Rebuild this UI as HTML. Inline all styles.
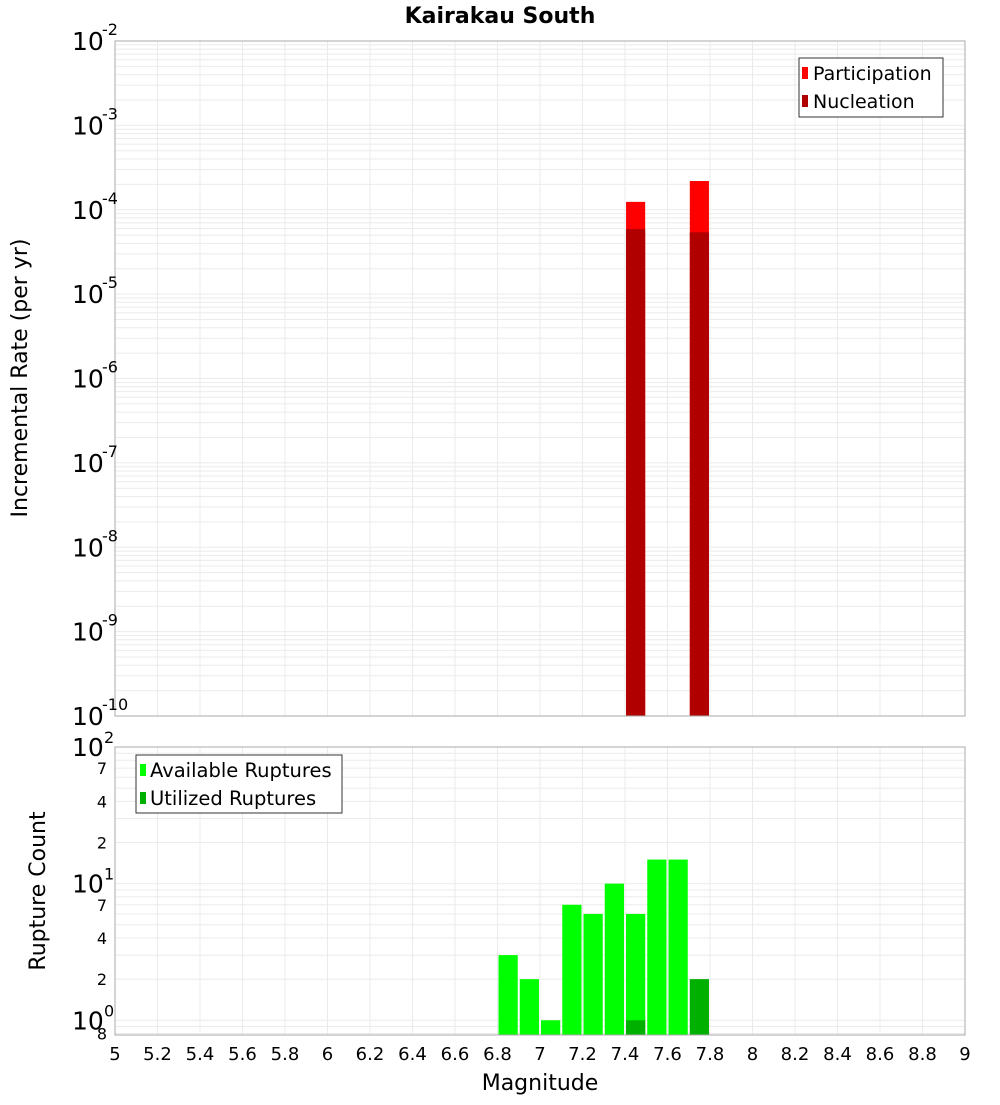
<!DOCTYPE html>
<html><head><meta charset="utf-8"><style>
body{margin:0;background:#fff}
svg{font-family:"DejaVu Sans","Liberation Sans",sans-serif}
</style></head><body>
<svg id="c" width="1000" height="1100" xmlns="http://www.w3.org/2000/svg">
<text x="500" y="23" text-anchor="middle" font-size="22" font-weight="bold">Kairakau South</text>
<g id="topG"></g>
<g id="botG"></g>
<text transform="translate(27,378) rotate(-90)" text-anchor="middle" font-size="22">Incremental Rate (per yr)</text>
<text transform="translate(45,891) rotate(-90)" text-anchor="middle" font-size="22">Rupture Count</text>
<text x="540" y="1090" text-anchor="middle" font-size="22">Magnitude</text>
<g>
<rect x="799" y="58" width="144" height="59" fill="#fff" stroke="#333"/>
<rect x="802" y="67" width="6" height="12" fill="#ff0000"/><text x="813" y="80" font-size="19">Participation</text>
<rect x="802" y="95" width="6" height="12" fill="#b00000"/><text x="813" y="108" font-size="19">Nucleation</text>
</g>
<g>
<rect x="136" y="755" width="206" height="58" fill="#fff" stroke="#333"/>
<rect x="140" y="764" width="6" height="12" fill="#00ff00"/><text x="150" y="777" font-size="19.5">Available Ruptures</text>
<rect x="140" y="792" width="6" height="12" fill="#00b000"/><text x="150" y="805" font-size="19.5">Utilized Ruptures</text>
</g>
</svg>
<script>
const rateMags=[7.45,7.75];
const participation=[1.24e-4,2.19e-4];
const nucleation=[5.9e-5,5.4e-5];
const countMags=[6.85,6.95,7.05,7.15,7.25,7.35,7.45,7.55,7.65,7.75];
const available=[3,2,1,7,6,10,6,15,15,0];
const utilized=[0,0,0,0,0,0,1,0,0,2];
const xTicks=[5,5.2,5.4,5.6,5.8,6,6.2,6.4,6.6,6.8,7,7.2,7.4,7.6,7.8,8,8.2,8.4,8.6,8.8,9];
const rateExps=[-2,-3,-4,-5,-6,-7,-8,-9,-10];
const NS="http://www.w3.org/2000/svg";
const L=115,R=965;
const X=m=>L+(m-5)/4*(R-L);
const T0=41,T1=716, yT=v=>T0+(-2-Math.log10(v))/8*(T1-T0);
const B0=747,B1=1035, bMin=0.78, yB=v=>B0+(2-Math.log10(v))/(2-Math.log10(bMin))*(B1-B0);
function mk(p,tag,at,txt){const e=document.createElementNS(NS,tag);for(const k in at)e.setAttribute(k,at[k]);if(txt!==undefined)e.textContent=txt;p.appendChild(e);return e;}
const topPlot=document.getElementById('topG'),botPlot=document.getElementById('botG');
mk(topPlot,'rect',{x:L,y:T0,width:R-L,height:T1-T0,fill:'#fff'});
for(let e=-10;e<-2;e++)for(let k=1;k<10;k++){const y=yT(k*Math.pow(10,e));mk(topPlot,'line',{x1:L,x2:R,y1:y,y2:y,stroke:'#ebebeb'});}
for(const t of xTicks){mk(topPlot,'line',{x1:X(t),x2:X(t),y1:T0,y2:T1,stroke:'#ebebeb'});}
for(let i=0;i<rateMags.length;i++){
 const x=X(rateMags[i]-0.045),w=X(5.09)-L;
 const p=mk(topPlot,'rect',{x:x,y:yT(participation[i]),width:w,height:T1-yT(participation[i]),fill:'#ff0000'});
 
 
 const n=mk(topPlot,'rect',{x:x,y:yT(nucleation[i]),width:w,height:T1-yT(nucleation[i]),fill:'#b00000'});
 
 
}
mk(topPlot,'rect',{x:L,y:T0,width:R-L,height:T1-T0,fill:'none',stroke:'#aaa'});
for(const e of rateExps){const y=yT(Math.pow(10,e));const g=mk(topPlot,'g',{});
 
 
 mk(g,'text',{x:72,y:y+9,'font-size':25},'10');mk(g,'text',{x:102,y:y-6,'font-size':16},String(e));}
mk(botPlot,'rect',{x:L,y:B0,width:R-L,height:B1-B0,fill:'#fff'});
const bgl=[0.8,0.9,1,2,3,4,5,6,7,8,9,10,20,30,40,50,60,70,80,90,100];
for(const v of bgl){const y=yB(v);mk(botPlot,'line',{x1:L,x2:R,y1:y,y2:y,stroke:'#ebebeb'});}
for(const t of xTicks){mk(botPlot,'line',{x1:X(t),x2:X(t),y1:B0,y2:B1,stroke:'#ebebeb'});}
for(let i=0;i<countMags.length;i++){
 const x=X(countMags[i]-0.05)+1,w=X(5.1)-L-2;
 if(available[i]>0){const a=mk(botPlot,'rect',{x:x,y:yB(available[i]),width:w,height:B1-yB(available[i]),fill:'#00ff00'});
  
  }
 if(utilized[i]>0){const u=mk(botPlot,'rect',{x:x,y:yB(utilized[i]),width:w,height:B1-yB(utilized[i]),fill:'#00b000'});
  
  }
}
mk(botPlot,'rect',{x:L,y:B0,width:R-L,height:B1-B0,fill:'none',stroke:'#aaa'});
const bMajor=[[100,'2'],[10,'1'],[1,'0']];
for(const [v,e] of bMajor){const y=yB(v);mk(botPlot,'text',{x:72,y:y+9,'font-size':25},'10');mk(botPlot,'text',{x:104,y:y-4,'font-size':16},e);}
const bMinor=[7,4,2,70,40,20,0.8];
for(const v of bMinor){mk(botPlot,'text',{x:107,y:yB(v)+6,'font-size':16,'text-anchor':'end'},v===0.8?'8':String(v)[0]);}
for(const t of xTicks){const tx=mk(botPlot,'text',{x:X(t),y:1060,'font-size':18,'text-anchor':'middle'},String(t));
 
 }
</script>
</body></html>
